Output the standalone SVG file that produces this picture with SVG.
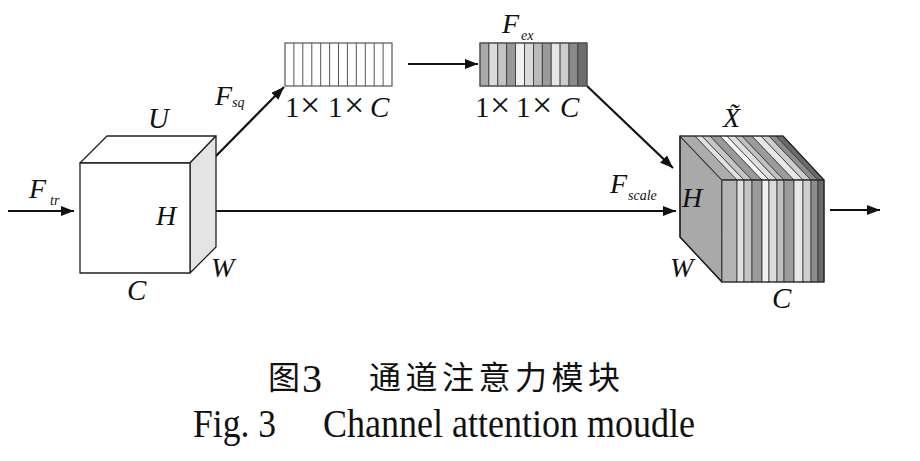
<svg xmlns="http://www.w3.org/2000/svg" width="920" height="461" viewBox="0 0 920 461">
<defs>
<marker id="ah" markerUnits="userSpaceOnUse" markerWidth="14" markerHeight="11" refX="13" refY="5" orient="auto">
<path d="M0,0 L13,5 L0,10 z" fill="#111"/>
</marker>
</defs>
<style>
.lbl{font-family:"Liberation Serif",serif;font-style:italic;fill:#111}
.up{font-family:"Liberation Serif",serif;fill:#111}
.sub{font-family:"Liberation Serif",serif;font-style:italic;fill:#111;font-size:14px}
.edge{stroke:#222;stroke-width:1.3;stroke-linejoin:round}
.conn{stroke:#111;stroke-width:2.2;fill:none;marker-end:url(#ah)}
.st{stroke:#333;stroke-width:0.8}
.cap{font-family:"Noto Sans CJK SC",sans-serif;fill:#111}
</style>
<rect width="920" height="461" fill="#fff"/>

<g id="connectors">
<line class="conn" x1="8" y1="211" x2="74" y2="211"/>
<line class="conn" x1="215" y1="157" x2="284" y2="87"/>
<line class="conn" x1="408" y1="64" x2="478" y2="64"/>
<line class="conn" x1="587" y1="86" x2="673" y2="168"/>
<line class="conn" x1="216" y1="211" x2="676" y2="211"/>
<line class="conn" x1="830" y1="210" x2="880" y2="210"/>
</g>

<g id="cube-U">
<polygon class="edge" points="80,163 107,136 216,136 190,163" fill="#fff"/>
<polygon class="edge" points="190,163 216,136 216,247 190,273" fill="#e4e4e4"/>
<rect class="edge" x="80" y="163" width="110" height="110" fill="#fff"/>
<text class="lbl" x="148" y="128" font-size="29">U</text>
<text class="lbl" x="156" y="225" font-size="28">H</text>
<text class="lbl" x="127" y="300" font-size="29">C</text>
<text class="lbl" x="211" y="277" font-size="28">W</text>
<text class="lbl" x="29" y="198" font-size="28">F</text>
<text class="sub" x="50" y="205">tr</text>
<text class="lbl" x="215" y="105" font-size="28">F</text>
<text class="sub" x="232" y="107">sq</text>
</g>

<g id="vec-sq">
<rect x="285" y="43" width="107" height="43" fill="#fff" stroke="#555" stroke-width="1.2"/>
<g stroke="#555" stroke-width="1">
<line x1="293.9" y1="43" x2="293.9" y2="86"/>
<line x1="302.8" y1="43" x2="302.8" y2="86"/>
<line x1="311.8" y1="43" x2="311.8" y2="86"/>
<line x1="320.7" y1="43" x2="320.7" y2="86"/>
<line x1="329.6" y1="43" x2="329.6" y2="86"/>
<line x1="338.5" y1="43" x2="338.5" y2="86"/>
<line x1="347.4" y1="43" x2="347.4" y2="86"/>
<line x1="356.3" y1="43" x2="356.3" y2="86"/>
<line x1="365.3" y1="43" x2="365.3" y2="86"/>
<line x1="374.2" y1="43" x2="374.2" y2="86"/>
<line x1="383.1" y1="43" x2="383.1" y2="86"/>
</g>
<text class="up" y="117" font-size="29"><tspan x="285">1</tspan><tspan x="300" font-size="36">×</tspan><tspan x="328">1</tspan><tspan x="344" font-size="36">×</tspan><tspan x="370" font-style="italic">C</tspan></text>
</g>

<g id="vec-ex">
<g class="st">
<rect x="480" y="43" width="8.9" height="43" fill="#aaaaaa"/>
<rect x="488.9" y="43" width="8.9" height="43" fill="#dcdcdc"/>
<rect x="497.8" y="43" width="8.9" height="43" fill="#c4c4c4"/>
<rect x="506.7" y="43" width="8.9" height="43" fill="#999999"/>
<rect x="515.6" y="43" width="8.9" height="43" fill="#f2f2f2"/>
<rect x="524.5" y="43" width="8.9" height="43" fill="#dadada"/>
<rect x="533.4" y="43" width="8.9" height="43" fill="#bababa"/>
<rect x="542.3" y="43" width="8.9" height="43" fill="#9a9a9a"/>
<rect x="551.2" y="43" width="8.9" height="43" fill="#e6e6e6"/>
<rect x="560.1" y="43" width="8.9" height="43" fill="#cccccc"/>
<rect x="569" y="43" width="8.9" height="43" fill="#8a8a8a"/>
<rect x="577.9" y="43" width="9.1" height="43" fill="#6e6e6e"/>
</g>
<rect x="480" y="43" width="107" height="43" fill="none" stroke="#555" stroke-width="1.2"/>
<text class="lbl" x="502" y="33" font-size="28">F</text>
<text class="sub" x="521" y="40">ex</text>
<text class="up" y="117" font-size="29"><tspan x="475">1</tspan><tspan x="490" font-size="36">×</tspan><tspan x="516">1</tspan><tspan x="532" font-size="36">×</tspan><tspan x="560" font-style="italic">C</tspan></text>
</g>

<g id="cube-X">
<polygon class="edge" points="680,136 722,180 722,282 680,237" fill="#a9a9a9"/>
<g class="st">
<polygon points="680,136 695,136 737,180 722,180" fill="#acacac"/>
<polygon points="695,136 702,136 744,180 737,180" fill="#e2e2e2"/>
<polygon points="702,136 710,136 752,180 744,180" fill="#c6c6c6"/>
<polygon points="710,136 720,136 762,180 752,180" fill="#9a9a9a"/>
<polygon points="720,136 727,136 769,180 762,180" fill="#f6f6f6"/>
<polygon points="727,136 735,136 777,180 769,180" fill="#e0e0e0"/>
<polygon points="735,136 742,136 784,180 777,180" fill="#c2c2c2"/>
<polygon points="742,136 752,136 794,180 784,180" fill="#9c9c9c"/>
<polygon points="752,136 761,136 803,180 794,180" fill="#e8e8e8"/>
<polygon points="761,136 769,136 811,180 803,180" fill="#cecece"/>
<polygon points="769,136 776,136 818,180 811,180" fill="#8c8c8c"/>
<polygon points="776,136 783,136 824,180 818,180" fill="#6a6a6a"/>
<rect x="722" y="180" width="15" height="102" fill="#b4b4b4"/>
<rect x="737" y="180" width="7" height="102" fill="#e0e0e0"/>
<rect x="744" y="180" width="8" height="102" fill="#c4c4c4"/>
<rect x="752" y="180" width="10" height="102" fill="#9a9a9a"/>
<rect x="762" y="180" width="7" height="102" fill="#f2f2f2"/>
<rect x="769" y="180" width="8" height="102" fill="#dcdcdc"/>
<rect x="777" y="180" width="7" height="102" fill="#c0c0c0"/>
<rect x="784" y="180" width="10" height="102" fill="#9c9c9c"/>
<rect x="794" y="180" width="9" height="102" fill="#e6e6e6"/>
<rect x="803" y="180" width="8" height="102" fill="#cfcfcf"/>
<rect x="811" y="180" width="7" height="102" fill="#8c8c8c"/>
<rect x="818" y="180" width="6" height="102" fill="#6a6a6a"/>
</g>
<polygon points="680,136 783,136 824,180 824,282 722,282 680,237" fill="none" stroke="#222" stroke-width="1.2" stroke-linejoin="round"/>
<line x1="722" y1="180" x2="824" y2="180" stroke="#222" stroke-width="1"/>
<text class="lbl" x="723" y="127" font-size="28">X̃</text>
<text class="lbl" x="682" y="207" font-size="28">H</text>
<text class="lbl" x="670" y="277" font-size="28">W</text>
<text class="lbl" x="772" y="308" font-size="29">C</text>
<text class="lbl" x="610" y="193" font-size="28">F</text>
<text class="sub" x="628" y="200">scale</text>
</g>

<g id="caption">
<text class="cap" x="268" y="389" font-size="32">图</text>
<text class="up" x="302" y="392" font-size="40">3</text>
<text class="cap" x="369" y="389" font-size="32" letter-spacing="4.5">通道注意力模块</text>
<text class="up" x="193" y="437" font-size="40" textLength="83" lengthAdjust="spacingAndGlyphs">Fig. 3</text>
<text class="up" x="323" y="437" font-size="40" textLength="372" lengthAdjust="spacingAndGlyphs">Channel attention moudle</text>
</g>
</svg>
